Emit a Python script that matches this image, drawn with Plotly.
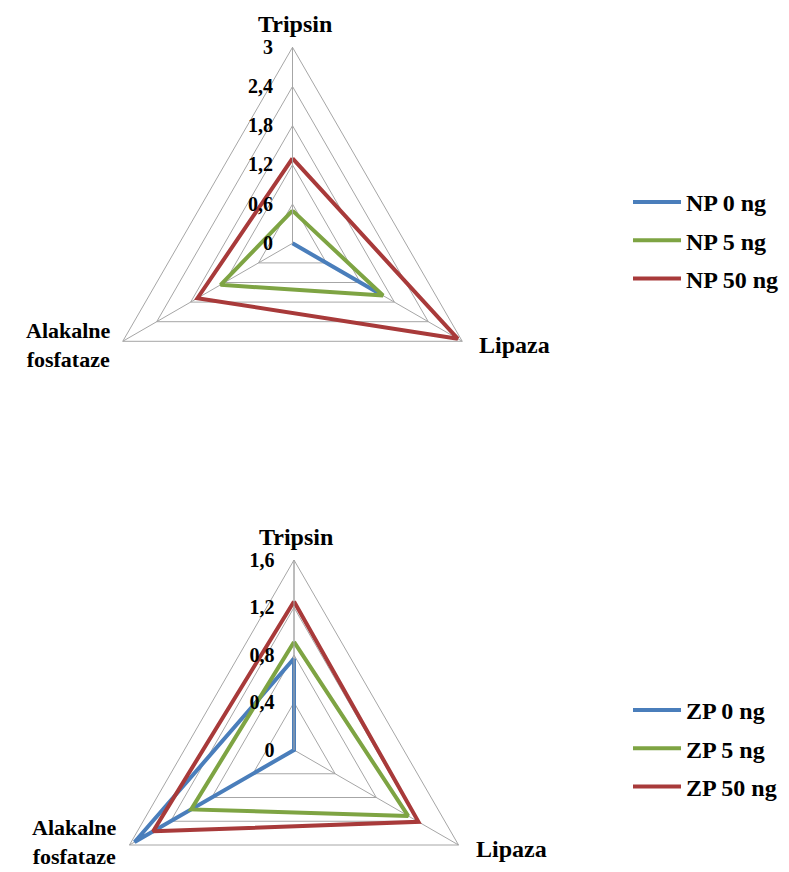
import plotly.graph_objects as go

categories = ["Tripsin", "Lipaza", "Alakalne fosfataze"]
cat_labels = ["Tripsin", "Lipaza", "Alakalne<br>fosfataze"]

np_names = ["NP 0 ng", "NP 5 ng", "NP 50 ng"]
np_0 = [0.0, 1.55, 0.0]
np_5 = [0.5, 1.60, 1.27]
np_50 = [1.3, 2.92, 1.68]
np_ticks = [0, 0.6, 1.2, 1.8, 2.4, 3]
np_ticktext = ["0", "0,6", "1,2", "1,8", "2,4", "3"]

zp_names = ["ZP 0 ng", "ZP 5 ng", "ZP 50 ng"]
zp_0 = [0.77, 0.0, 1.55]
zp_5 = [0.91, 1.11, 1.0]
zp_50 = [1.25, 1.21, 1.37]
zp_ticks = [0, 0.4, 0.8, 1.2, 1.6]
zp_ticktext = ["0", "0,4", "0,8", "1,2", "1,6"]

colors = ["#4A7EBB", "#7EA443", "#A83A3A"]

W, H = 789, 942
FONT = "Liberation Serif"
GRID = "#A6A6A6"

fig = go.Figure()


def close(v):
    return list(v) + [v[0]]


theta_closed = close(categories)

for i, (name, vals) in enumerate(zip(np_names, [np_0, np_5, np_50])):
    fig.add_trace(go.Scatterpolar(
        r=close(vals), theta=theta_closed, mode="lines", name=name,
        line=dict(color=colors[i], width=4), subplot="polar",
        legend="legend", legendgroup="np%d" % i))

for i, (name, vals) in enumerate(zip(zp_names, [zp_0, zp_5, zp_50])):
    fig.add_trace(go.Scatterpolar(
        r=close(vals), theta=theta_closed, mode="lines", name=name,
        line=dict(color=colors[i], width=4), subplot="polar2",
        legend="legend2", legendgroup="zp%d" % i))


def polar_cfg(cx, cy, r, rmax, tv, tt):
    return dict(
        domain=dict(x=[(cx - r) / W, (cx + r) / W],
                    y=[max(0, 1 - (cy + r) / H), 1 - (cy - r) / H]),
        gridshape="linear",
        bgcolor="white",
        angularaxis=dict(
            type="category", categoryarray=categories,
            rotation=90, direction="clockwise",
            showticklabels=False,
            showline=True, linecolor=GRID, linewidth=1,
            showgrid=True, gridcolor=GRID, gridwidth=1,
            ticks="",
        ),
        radialaxis=dict(
            range=[0, rmax], angle=90, tickangle=90, side="counterclockwise",
            tickmode="array", tickvals=tv, ticktext=tt,
            tickfont=dict(family=FONT, size=20, color="black", weight="bold"),
            showline=True, linecolor=GRID, linewidth=1,
            showgrid=True, gridcolor=GRID, gridwidth=1,
            ticks="outside", ticklen=12, tickcolor="rgba(0,0,0,0)",
        ),
    )


def axis_label_annotations(cx, cy, r, alk_dy):
    c30, s30 = 0.866, 0.5
    spots = [
        (cx + 2, cy - r - 23, "center", "middle", 24),
        (cx + r * c30 + 15, cy + r * s30 + 4, "left", "middle", 24),
        (cx - r * c30 - 10, cy + r * s30 + alk_dy, "right", "middle", 22),
    ]
    anns = []
    for (x, y, xa, ya, fs), text in zip(spots, cat_labels):
        anns.append(dict(x=x / W, y=1 - y / H, xref="paper", yref="paper",
                         text=text, showarrow=False, xanchor=xa, yanchor=ya,
                         align="center",
                         font=dict(family=FONT, size=fs, color="black", weight="bold")))
    return anns


r1, cx1, cy1 = 196, 292.5, 243.3
r2, cx2, cy2 = 190, 294, 750

leg_font = dict(family=FONT, size=24, color="black", weight="bold")

fig.update_layout(
    width=W, height=H,
    margin=dict(l=0, r=0, t=0, b=0),
    paper_bgcolor="white",
    showlegend=True,
    polar=polar_cfg(cx1, cy1, r1, 3, np_ticks, np_ticktext),
    polar2=polar_cfg(cx2, cy2, r2, 1.6, zp_ticks, zp_ticktext),
    annotations=axis_label_annotations(cx1, cy1, r1, 4)
    + axis_label_annotations(cx2, cy2, r2, -3),
    legend=dict(x=628 / W, y=1 - 180 / H, xanchor="left", yanchor="top",
                font=leg_font, itemwidth=48, traceorder="grouped", tracegroupgap=4,
                bgcolor="rgba(0,0,0,0)"),
    legend2=dict(x=628 / W, y=1 - 688 / H, xanchor="left", yanchor="top",
                 font=leg_font, itemwidth=48, traceorder="grouped", tracegroupgap=4,
                 bgcolor="rgba(0,0,0,0)"),
)

fig.write_html("out.html", config={"displayModeBar": False},
               post_script="document.body.style.margin='0';document.body.style.overflow='hidden';")
